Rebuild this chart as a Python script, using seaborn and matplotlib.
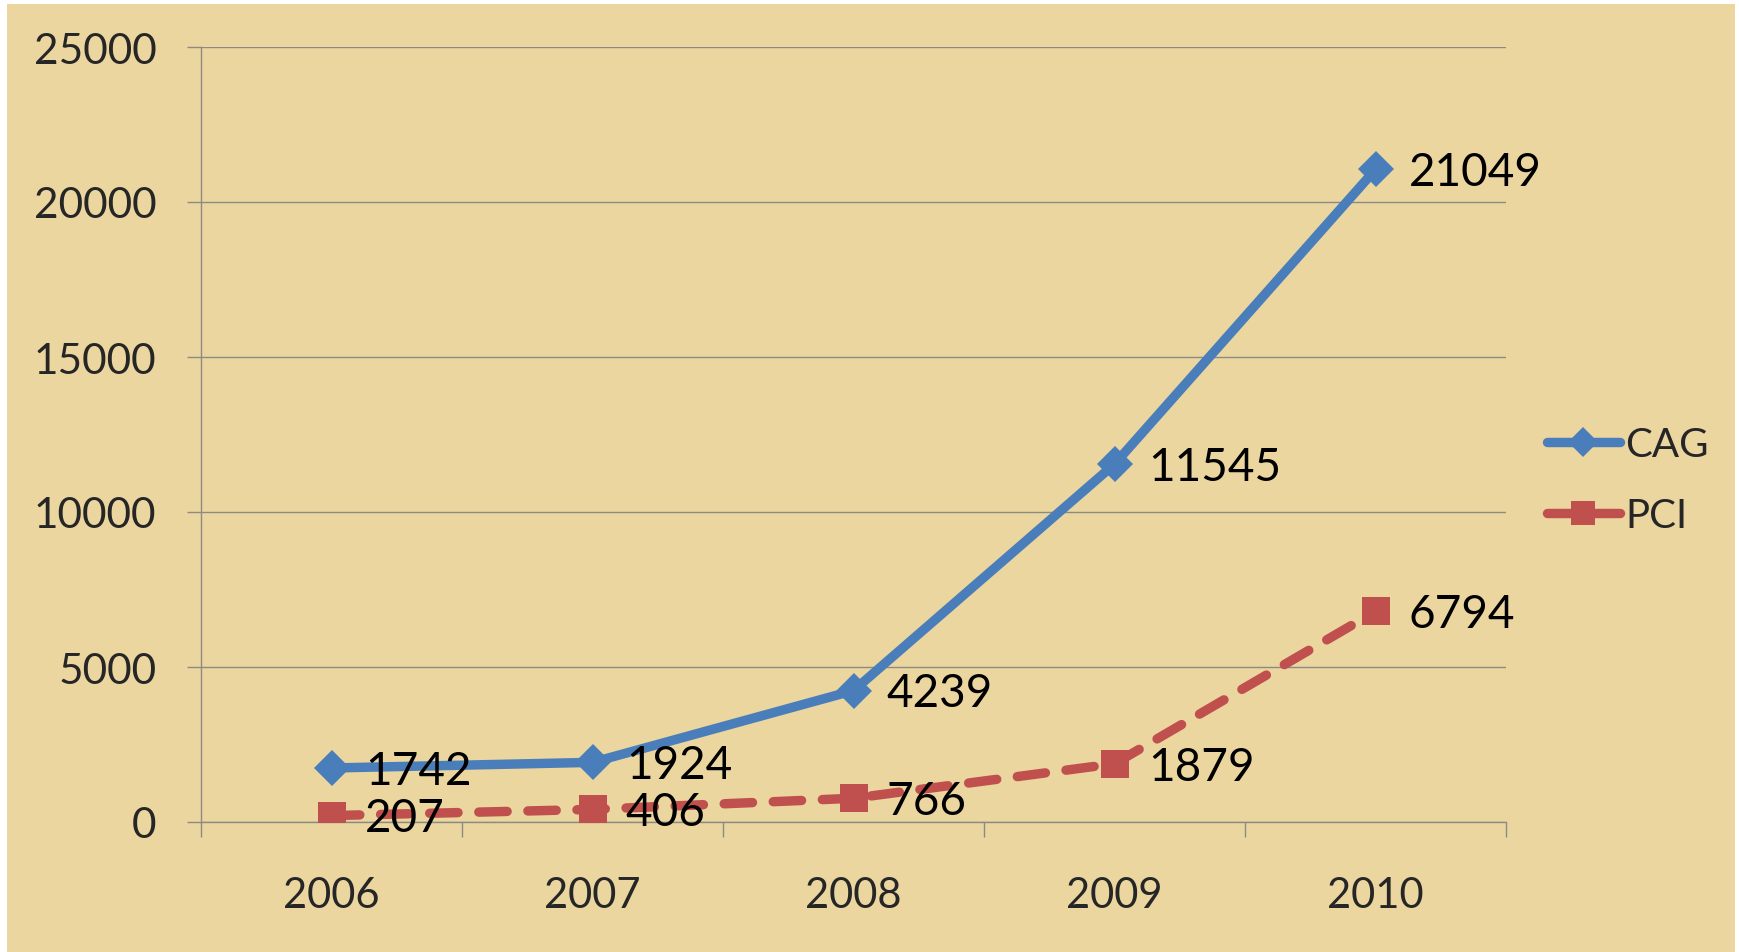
import matplotlib
matplotlib.use("Agg")
import matplotlib.pyplot as plt
import seaborn as sns
import pandas as pd
from matplotlib.patches import Rectangle
from matplotlib.lines import Line2D

years = ["2006", "2007", "2008", "2009", "2010"]
cag = [1742, 1924, 4239, 11545, 21049]
pci = [207, 406, 766, 1879, 6794]
series_names = ["CAG", "PCI"]
y_ticks = [0, 5000, 10000, 15000, 20000, 25000]

BLUE = "#4A7EBB"
RED = "#C0504D"
BG = "#EBD6A0"
GRID = "#8C8A82"

sns.set_theme(style="white")
plt.rcParams["font.family"] = ["Lato", "DejaVu Sans"]

df = pd.DataFrame({
    "year": years * 2,
    "value": cag + pci,
    "series": [series_names[0]] * len(years) + [series_names[1]] * len(years),
})

W, H = 1739, 953
fig = plt.figure(figsize=(W / 100, H / 100), dpi=100, facecolor="white")
fig.patches.append(Rectangle((7 / W, 0), (W - 11) / W, (H - 5) / H,
                             transform=fig.transFigure, facecolor=BG,
                             edgecolor="none", zorder=-10))
ax = fig.add_axes([201 / W, 1 - 823 / H, (1506 - 201) / W, (823 - 48) / H])
ax.set_facecolor("none")

sub_c = df[df.series == "CAG"]
sub_p = df[df.series == "PCI"]
sns.lineplot(data=sub_c, x="year", y="value", ax=ax, color=BLUE, lw=6.8,
             marker="D", markersize=18, markeredgewidth=0, sort=False,
             solid_capstyle="round", zorder=4, legend=False)
sns.lineplot(data=sub_p, x="year", y="value", ax=ax, color=RED, lw=6.8,
             marker="s", markersize=20, markeredgewidth=0, sort=False,
             dashes=(3.0, 2.2), zorder=3, legend=False)
for ln in ax.lines:
    ln.set_dash_capstyle("round")

for i, v in enumerate(cag):
    ax.annotate(str(v), (i, v), xytext=(24, -2), textcoords="offset points",
                ha="left", va="center", fontsize=33, color="black", zorder=6)
for i, v in enumerate(pci):
    ax.annotate(str(v), (i, v), xytext=(24, -2), textcoords="offset points",
                ha="left", va="center", fontsize=33, color="black", zorder=6)

ax.set_xlim(-0.5, len(years) - 0.5)
ax.set_ylim(0, 25000)
ax.set_yticks(y_ticks)
ax.set_yticklabels([str(t) for t in y_ticks], fontsize=30.5)
ax.set_xticks(range(len(years)))
ax.set_xticklabels(years, fontsize=30)
ax.set_xticks([i - 0.5 for i in range(len(years) + 1)], minor=True)
ax.set_xlabel("")
ax.set_ylabel("")

ax.grid(axis="y", color=GRID, lw=1.0, zorder=0)
ax.set_axisbelow(True)
for s in ["top", "right"]:
    ax.spines[s].set_visible(False)
for s in ["left", "bottom"]:
    ax.spines[s].set_color(GRID)
    ax.spines[s].set_linewidth(1.0)

ax.tick_params(axis="y", which="major", length=10, width=1, color=GRID,
               direction="out", pad=22, left=True)
ax.tick_params(axis="x", which="major", length=0, pad=39)
ax.tick_params(axis="x", which="minor", length=11, width=1, color=GRID,
               direction="out", bottom=True)

handles = [
    Line2D([], [], color=BLUE, lw=6.8, marker="D", markersize=15,
           markeredgewidth=0, solid_capstyle="round"),
    Line2D([], [], color=RED, lw=6.8, marker="s", markersize=17,
           markeredgewidth=0, solid_capstyle="round"),
]
leg = fig.legend(handles, series_names, loc="center left",
                 bbox_to_anchor=(1547 / W, 1 - 481 / H), frameon=False,
                 fontsize=29, handlelength=1.8, handletextpad=0.15,
                 labelspacing=0.85, borderpad=0, borderaxespad=0)

fig.savefig("out.png", dpi=100, facecolor=fig.get_facecolor())
